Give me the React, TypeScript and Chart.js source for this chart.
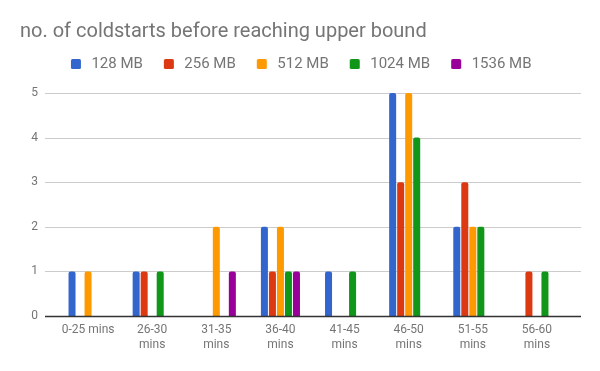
import React, { useEffect, useRef } from "react";
import { Chart, registerables } from "chart.js";

Chart.register(...registerables);

const categories: (string | string[])[] = [
  "0-25 mins",
  ["26-30", "mins"],
  ["31-35", "mins"],
  ["36-40", "mins"],
  ["41-45", "mins"],
  ["46-50", "mins"],
  ["51-55", "mins"],
  ["56-60", "mins"],
];

const seriesNames = ["128 MB", "256 MB", "512 MB", "1024 MB", "1536 MB"];
const seriesColors = ["#3366CC", "#DC3912", "#FF9900", "#109618", "#990099"];

const mb128 = [1, 1, 0, 2, 1, 5, 2, 0];
const mb256 = [0, 1, 0, 1, 0, 3, 3, 1];
const mb512 = [1, 0, 2, 2, 0, 5, 2, 0];
const mb1024 = [0, 1, 0, 1, 1, 4, 2, 1];
const mb1536 = [0, 0, 1, 1, 0, 0, 0, 0];

const seriesValues = [mb128, mb256, mb512, mb1024, mb1536];
const yTicks = [0, 1, 2, 3, 4, 5];

const titleText = "no. of coldstarts before reaching upper bound";

const SWATCH_W = 22;
function makeSwatch(color: string): HTMLCanvasElement {
  const c = document.createElement("canvas");
  c.width = SWATCH_W;
  c.height = 10;
  const ctx = c.getContext("2d")!;
  ctx.fillStyle = color;
  ctx.beginPath();
  (ctx as any).roundRect(9, 0, 10, 10, 1.5);
  ctx.fill();
  return c;
}

const gridPlugin = {
  id: "extGrid",
  beforeDatasetsDraw(chart: any) {
    const { ctx, chartArea, scales } = chart;
    const y = scales.y;
    ctx.save();
    ctx.strokeStyle = "#cccccc";
    ctx.lineWidth = 1;
    for (const v of yTicks) {
      if (v === 0) continue;
      const py = Math.round(y.getPixelForValue(v)) + 0.5;
      ctx.beginPath();
      ctx.moveTo(chartArea.left - 11, py);
      ctx.lineTo(chartArea.right + 12, py);
      ctx.stroke();
    }
    ctx.restore();
  },
  afterDatasetsDraw(chart: any) {
    const { ctx, chartArea, scales } = chart;
    const y = scales.y;
    ctx.save();
    ctx.strokeStyle = "#333333";
    ctx.lineWidth = 1.3;
    const py = Math.round(y.getPixelForValue(0)) + 0.5;
    ctx.beginPath();
    ctx.moveTo(chartArea.left - 11, py);
    ctx.lineTo(chartArea.right + 12, py);
    ctx.stroke();
    ctx.restore();
  },
};

export default function App() {
  const ref = useRef<HTMLCanvasElement | null>(null);

  useEffect(() => {
    if (!ref.current) return;
    Chart.defaults.font.family = "Roboto";
    const swatches = seriesColors.map(makeSwatch);
    const chart = new Chart(ref.current, {
      type: "bar",
      data: {
        labels: categories,
        datasets: seriesNames.map((name, i) => ({
          label: name,
          data: seriesValues[i],
          backgroundColor: seriesColors[i],
          borderRadius: 2,
          barPercentage: 0.875,
          categoryPercentage: 0.625,
          yAxisID: "y",
        })),
      },
      options: {
        responsive: false,
        animation: false,
        layout: { padding: { left: 20, right: 26.6, top: 0, bottom: 13 } },
        plugins: {
          title: {
            display: true,
            text: titleText,
            align: "start",
            color: "#757575",
            font: { size: 20, weight: "normal", lineHeight: 1.2 },
            padding: { top: 20, bottom: 0.5 },
          },
          subtitle: {
            display: true,
            text: "",
            weight: 500,
            font: { size: 10, lineHeight: 1.15 },
            padding: 0,
          } as any,
          legend: {
            display: true,
            position: "top",
            labels: {
              usePointStyle: true,
              pointStyleWidth: SWATCH_W,
              padding: 12,
              color: "#757575",
              font: { size: 15 },
              generateLabels: (ch: any) => {
                const items = (Chart.defaults.plugins.legend.labels as any).generateLabels(ch);
                return items.map((it: any, i: number) => ({ ...it, pointStyle: swatches[i] }));
              },
            },
          },
          tooltip: { enabled: false },
        },
        scales: {
          x: {
            grid: { display: false, drawTicks: false },
            border: { display: false },
            ticks: {
              color: "#757575",
              font: { size: 12, lineHeight: 1.25 },
              padding: 6,
              maxRotation: 0,
              autoSkip: false,
            },
          },
          y: {
            min: 0,
            max: 5,
            grid: { drawOnChartArea: false, drawTicks: false, display: false },
            border: { display: false },
            afterFit: (scale: any) => {
              scale.width = 36;
            },
            afterBuildTicks: (scale: any) => {
              scale.ticks = yTicks.map((v) => ({ value: v }));
            },
            ticks: {
              color: "#757575",
              font: { size: 12 },
              padding: 18,
            },
          },
          yRightSpace: {
            position: "right",
            display: true,
            min: 0,
            max: 5,
            grid: { display: false, drawTicks: false },
            border: { display: false },
            ticks: { display: false },
            afterFit: (scale: any) => {
              scale.width = 4.4;
            },
          },
        },
      },
      plugins: [gridPlugin],
    } as any);
    return () => chart.destroy();
  }, []);

  return (
    <div style={{ position: "absolute", left: 0, top: 0, width: 600, height: 371, background: "#fff" }}>
      <canvas ref={ref} width={600} height={371} style={{ display: "block" }} />
    </div>
  );
}
